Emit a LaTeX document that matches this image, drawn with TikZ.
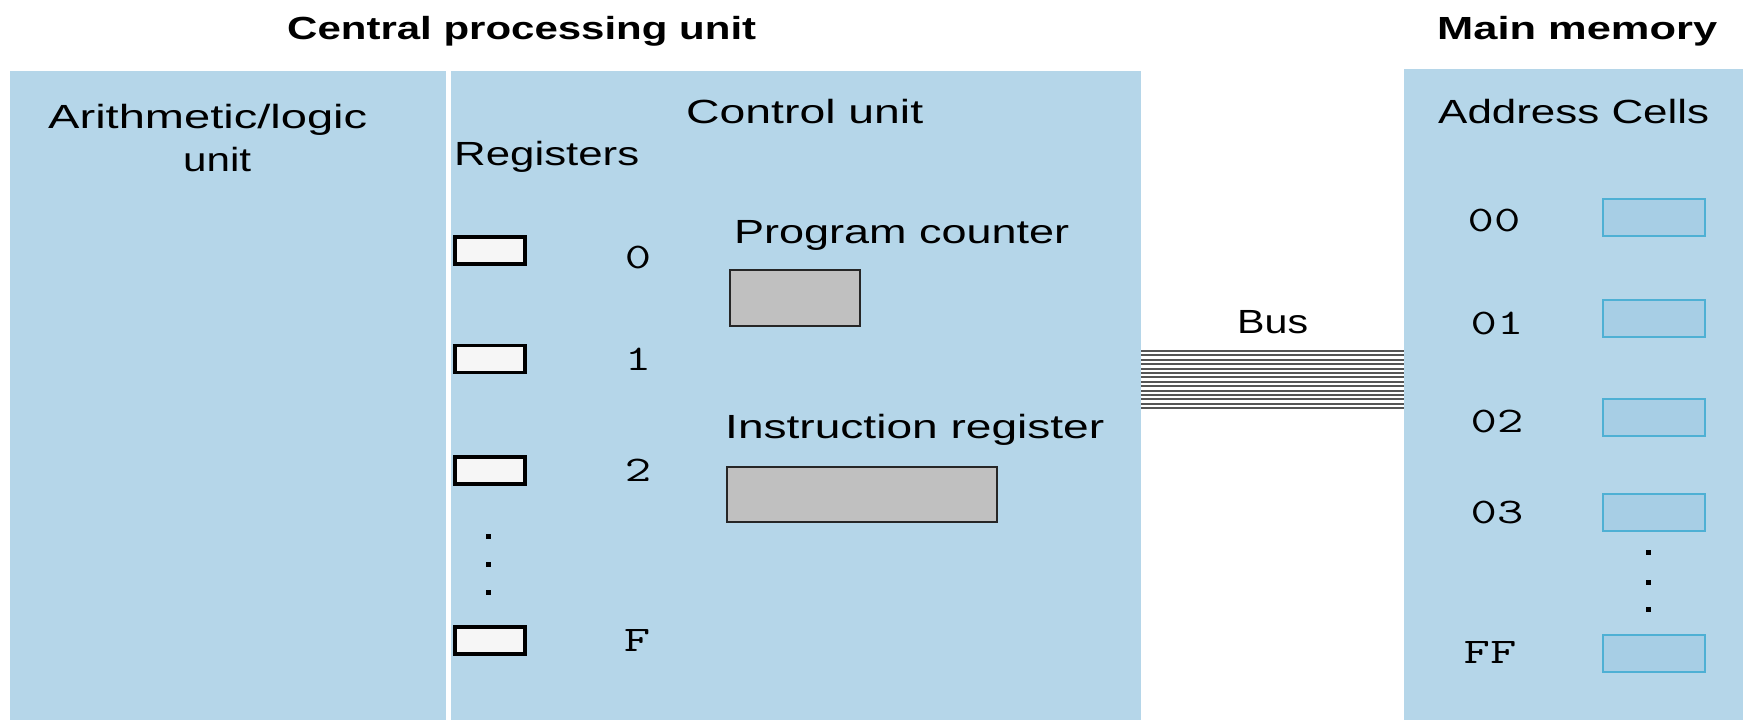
\documentclass[tikz,border=0pt]{standalone}
\usepackage{fontspec}
\setmainfont{Liberation Sans}
\usepackage{graphicx}

\definecolor{panelblue}{RGB}{181,214,233}
\definecolor{cellblue}{RGB}{167,206,229}
\definecolor{celledge}{RGB}{78,176,212}
\definecolor{regfill}{RGB}{246,246,246}
\definecolor{pcfill}{RGB}{192,192,192}
\definecolor{busgray}{RGB}{85,85,85}

% widen a label to a given width while keeping its height
\newcommand\stretchto[2]{\resizebox{#1pt}{\height}{#2}}
% widened typewriter figures for addresses
\newcommand\addrtext[1]{\scalebox{1.42}[1]{#1}}

\begin{document}
\begin{tikzpicture}[x=1pt,y=-1pt,
  panelbox/.style={fill=panelblue, draw=none, inner sep=0pt, outer sep=0pt, anchor=north west},
  lbl/.style={inner sep=0pt, anchor=base west, font=\fontsize{33.5}{40}\selectfont},
  title/.style={inner sep=0pt, anchor=base west, font=\fontsize{32}{38}\selectfont\bfseries},
  addr/.style={inner sep=0pt, anchor=base, font=\ttfamily\fontsize{36}{42}\selectfont},
  regbox/.style={draw=black, fill=regfill, line width=3.5pt, minimum width=70pt, minimum height=27pt, inner sep=0pt},
  cpureg/.style={draw=black!85, fill=pcfill, line width=2pt, inner sep=0pt},
  cell/.style={draw=celledge, fill=cellblue, line width=2pt, minimum width=102pt, minimum height=37pt, inner sep=0pt},
  dot/.style={fill=black, minimum size=5pt, inner sep=0pt},
  busline/.style={draw=busgray, line width=2.1pt}]
\useasboundingbox (0,0) rectangle (1743,720);

% panels
\node[panelbox, minimum width=1131pt, minimum height=649pt] (cpu) at (10,71) {};
\node[panelbox, minimum width=339pt, minimum height=651pt] (mem) at (1404,69) {};
\coordinate (divtop) at (448.5,71);
\draw[white, line width=5pt] (divtop) -- (divtop |- cpu.south);

% headings
\node[title] (cpuT) at (287,39) {\stretchto{469}{Central processing unit}};
\node[title] (memT) at (1437,39) {\stretchto{280}{Main memory}};

% CPU labels
\node[lbl] (aluT) at (48,128) {\stretchto{319}{Arithmetic/logic}};
\node[lbl] (aluT2) at (183,171) {\stretchto{68}{unit}};
\node[lbl] (cuT) at (686,123) {\stretchto{237}{Control unit}};
\node[lbl] (regT) at (454,165) {\stretchto{185}{Registers}};
\node[lbl] (pcT) at (734,243) {\stretchto{335}{Program counter}};
\node[lbl] (irT) at (725,438) {\stretchto{379}{Instruction register}};

% general purpose registers
\node[regbox] (r0) at (490,250.5) {};
\node[regbox] (r1) at (490,359) {};
\node[regbox] (r2) at (490,470.5) {};
\node[regbox] (rF) at (490,640.5) {};
\node[addr] (n0) at (638,268) {\addrtext{0}};
\node[addr] (n1) at (638,370) {\addrtext{1}};
\node[addr] (n2) at (638,481) {\addrtext{2}};
\node[addr] (nF) at (637,651) {\addrtext{F}};
\node[dot] (rd1) at (488,536) {};
\node[dot] (rd2) at (488,564) {};
\node[dot] (rd3) at (488,592) {};

% program counter and instruction register
\node[cpureg, minimum width=130pt, minimum height=56pt] (pc) at (795,298) {};
\node[cpureg, minimum width=270pt, minimum height=55pt] (ir) at (862,494.5) {};

% bus
\node[lbl] (busT) at (1237,333) {\stretchto{71}{Bus}};
\foreach \i in {0,...,13}{
  \coordinate (bl) at (0,{351+4.4*\i});
  \draw[busline] (cpu.east |- bl) -- (mem.west |- bl);
}

% main memory
\node[lbl] (addrT) at (1438,123) {\stretchto{271}{Address Cells}};
\node[addr] (a00) at (1494,231) {\addrtext{00}};
\node[addr] (a01) at (1497,334) {\addrtext{01}};
\node[addr] (a02) at (1497,432) {\addrtext{02}};
\node[addr] (a03) at (1497,523) {\addrtext{03}};
\node[addr] (aFF) at (1490,663) {\addrtext{FF}};
\node[cell] (c00) at (1654,217.5) {};
\node[cell] (c01) at (1654,318.5) {};
\node[cell] (c02) at (1654,417) {};
\node[cell] (c03) at (1654,512) {};
\node[cell] (cFF) at (1654,653) {};
\node[dot] (md1) at (1648,552) {};
\node[dot] (md2) at (1648,582) {};
\node[dot] (md3) at (1648,609) {};
\end{tikzpicture}
\end{document}
